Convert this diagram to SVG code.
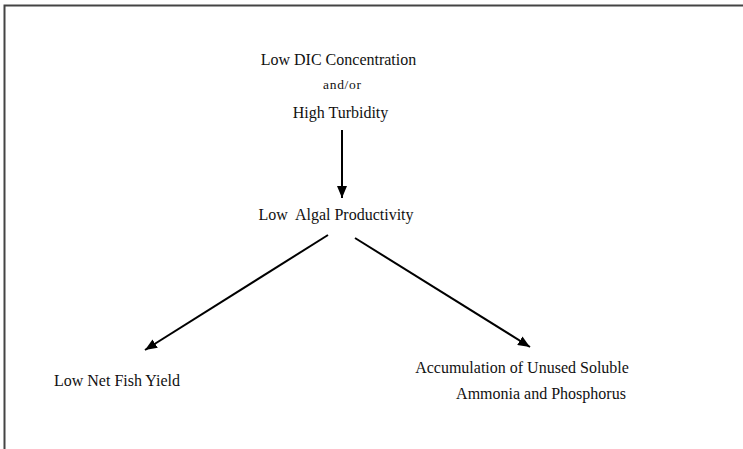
<svg xmlns="http://www.w3.org/2000/svg" width="743" height="449" viewBox="0 0 743 449">
<style>
text{font-family:"Liberation Serif","Times New Roman",serif;font-size:16px;fill:#111}
.s{font-size:13.5px}
.c{stroke:#000;stroke-width:2;fill:none}
</style>
<defs>
<marker id="ah" viewBox="0 0 12 10" refX="12" refY="5" markerWidth="6" markerHeight="5" orient="auto" markerUnits="strokeWidth">
<path d="M0,0 L12,5 L0,10 z" fill="#000"/>
</marker>
</defs>
<rect width="743" height="449" fill="#fff"/>
<path d="M4.5,449 V5.5 H743" stroke="#444" stroke-width="2" fill="none"/>
<g id="n1">
<text x="338.5" y="65" text-anchor="middle">Low DIC Concentration</text>
<text x="342" y="89" text-anchor="middle" class="s" textLength="38" lengthAdjust="spacing">and/or</text>
<text x="340.5" y="118" text-anchor="middle">High Turbidity</text>
</g>
<g id="n2"><text x="336" y="220" text-anchor="middle" xml:space="preserve">Low  Algal Productivity</text></g>
<g id="n3"><text x="117" y="386" text-anchor="middle">Low Net Fish Yield</text></g>
<g id="n4">
<text x="522" y="373" text-anchor="middle">Accumulation of Unused Soluble</text>
<text x="541" y="399" text-anchor="middle">Ammonia and Phosphorus</text>
</g>
<g id="connectors">
<line class="c" x1="342" y1="130" x2="342" y2="198" marker-end="url(#ah)"/>
<line class="c" x1="328" y1="235" x2="145" y2="350" marker-end="url(#ah)"/>
<line class="c" x1="355" y1="238" x2="530" y2="347" marker-end="url(#ah)"/>
</g>
</svg>
